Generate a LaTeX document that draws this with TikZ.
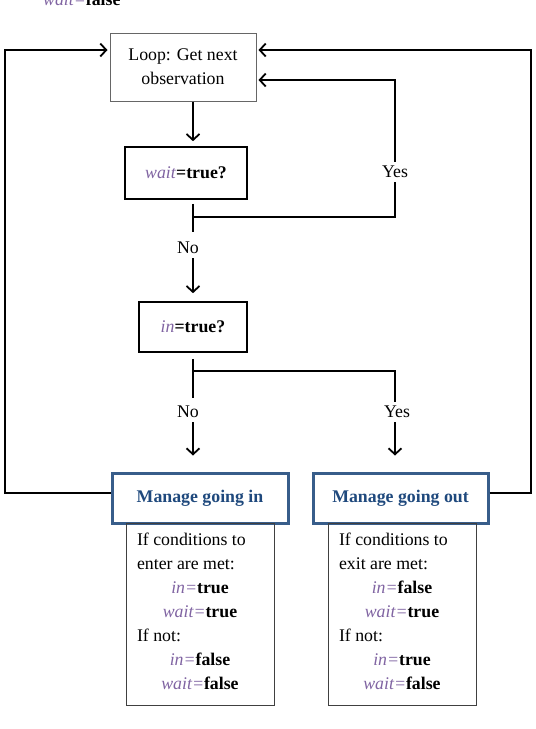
\documentclass[tikz,border=0pt]{standalone}
\usepackage{fontspec}
\setmainfont{Liberation Serif}
\usetikzlibrary{arrows.meta}
\definecolor{varpurple}{RGB}{128,100,162}
\definecolor{mgblue}{RGB}{31,73,125}
\definecolor{mgborder}{RGB}{56,93,138}
\newcommand{\iv}[1]{\textcolor{varpurple}{\textit{#1}}}
\newcommand{\condtext}[6]{\parbox{126pt}{\fontsize{17.8}{24}\selectfont\raggedright #1\\#2\par\centering\iv{in=}\textbf{#3}\\\iv{wait=}\textbf{#4}\par\raggedright If not:\par\centering\iv{in=}\textbf{#5}\\\iv{wait=}\textbf{#6}\par\vspace{7pt}}}
\begin{document}
\begin{tikzpicture}[x=1pt,y=-1pt,
  every node/.style={font=\fontsize{17.8}{24}\selectfont},
  conn/.style={line width=1.8pt},
  arr/.style={conn,-{Straight Barb[length=6pt,width=13pt]}},
  plainbox/.style={draw=black!60, line width=1pt, inner sep=0pt, align=center},
  qbox/.style={draw=black, line width=1.6pt, inner sep=0pt},
  mgbox/.style={draw=mgborder, line width=3pt, inner sep=0pt, text=mgblue, font=\fontsize{17.8}{24}\selectfont\bfseries},
  condbox/.style={draw=black!75, line width=1pt, inner sep=0pt},
  lbl/.style={inner sep=0pt}]
\useasboundingbox (0,0) rectangle (536,729);

\coordinate (ax) at (193,0);
\coordinate (yr) at (395,0);
\coordinate (lx) at (5,0);
\coordinate (rx) at (531,0);
\coordinate (ty) at (0,50);

\node[lbl, anchor=base west] (top) at (43,5) {\iv{wait=}\textbf{false}};

\node[plainbox, minimum width=146pt, minimum height=68pt] (loop) at (183,67) {Loop: Get next\\observation};
\node[qbox, minimum width=122pt, minimum height=52pt] (wait) at (186,173) {\iv{wait}\textbf{=true?}};
\node[qbox, minimum width=108pt, minimum height=50pt] (in) at (193,327) {\iv{in}\textbf{=true?}};
\node[mgbox, minimum width=176pt, minimum height=50pt] (mgin) at (200,498) {Manage going in};
\node[mgbox, minimum width=175pt, minimum height=50pt] (mgout) at (400.5,498) {Manage going out};
\node[condbox, minimum width=148pt, minimum height=182pt, anchor=north] (cin) at (200,523)
  {\condtext{If conditions to}{enter are met:}{true}{true}{false}{false}};
\node[condbox, minimum width=148pt, minimum height=182pt, anchor=north] (cout) at (402,523)
  {\condtext{If conditions to}{exit are met:}{false}{true}{true}{false}};

\node[lbl] (yes1) at (395,172) {Yes};
\node[lbl] (no1) at (188,248) {No};
\node[lbl] (no2) at (188,412) {No};
\node[lbl] (yes2) at (397,412) {Yes};

\coordinate (t1) at (193,217);
\coordinate (t2) at (193,371);

% loop -> wait
\draw[arr] (loop.south -| ax) -- ([yshift=5pt]wait.north -| ax);
% wait tee
\draw[conn] ([yshift=-4pt]wait.south -| ax) -- ++(0,28);
\draw[conn] (t1) -- (t1 -| yr) -- ([yshift=-4pt]yr |- yes1.south);
\draw[arr] ([yshift=4pt]yr |- yes1.north) |- ([yshift=-13pt,xshift=2pt]loop.east);
% no -> in
\draw[arr] ([yshift=-4pt]ax |- no1.south) -- ([yshift=8pt]ax |- in.north);
% in tee
\draw[conn] ([yshift=-6pt]in.south -| ax) -- ++(0,39);
\draw[conn] (t2) -- (t2 -| yr) -- ([yshift=4pt]yr |- yes2.north);
\draw[arr] ([yshift=-4pt]ax |- no2.south) -- ([yshift=16pt]ax |- mgin.north);
\draw[arr] ([yshift=-4pt]yr |- yes2.south) -- ([yshift=16pt]yr |- mgout.north);
% outer loops
\draw[arr] ([yshift=5pt]mgin.west) -- ([yshift=5pt]mgin.west -| lx) -- (lx |- ty) -- ([xshift=-2pt]loop.west |- ty);
\draw[arr] ([yshift=5pt]mgout.east) -- ([yshift=5pt]mgout.east -| rx) -- (rx |- ty) -- ([xshift=2pt]loop.east |- ty);
\end{tikzpicture}
\end{document}
